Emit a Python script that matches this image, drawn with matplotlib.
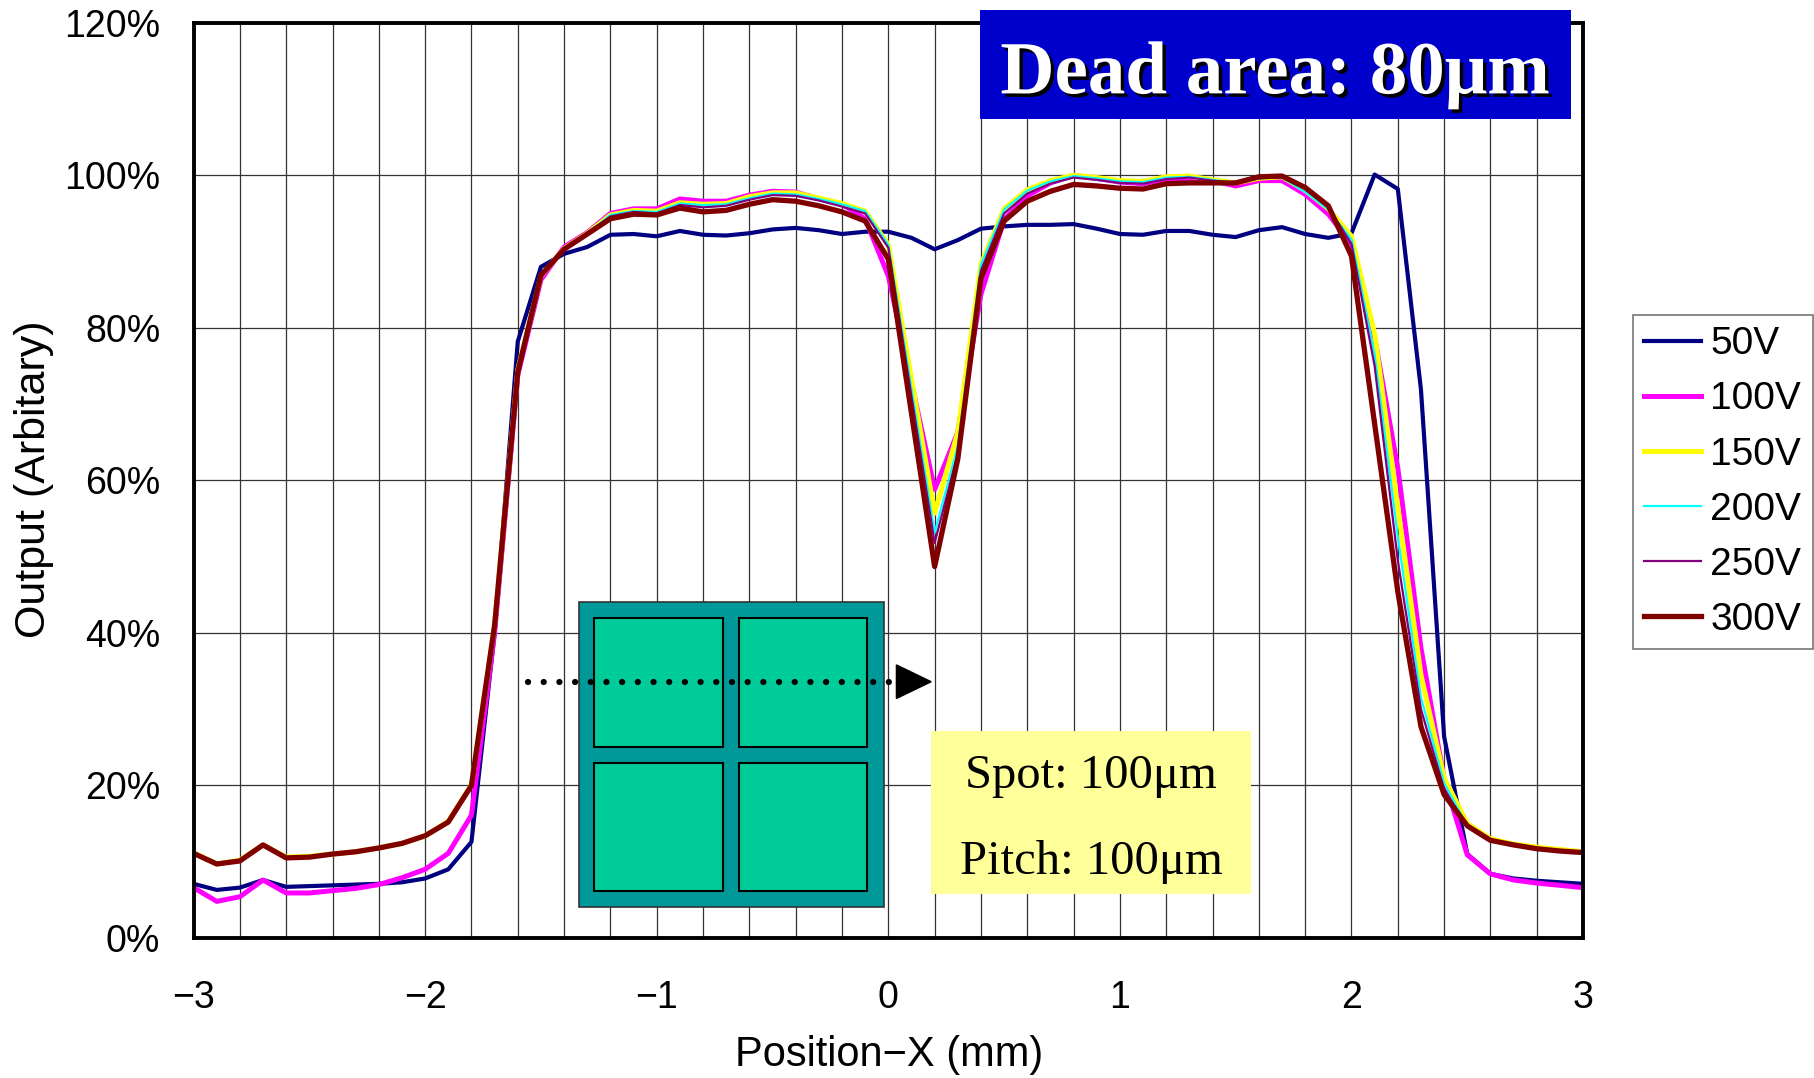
import numpy as np
import matplotlib
matplotlib.use('Agg')
import matplotlib.pyplot as plt
import matplotlib.patheffects as pe
from matplotlib.patches import Rectangle, Polygon

plt.rcParams['font.family'] = ['Liberation Sans', 'DejaVu Sans']

# scan positions (mm), one reading every 0.1 mm
position = np.linspace(-3, 3, 61)

v50 = [7.1, 6.3, 6.6, 7.6, 6.7, 6.8, 6.9, 7.0, 7.1, 7.3,
       7.8, 9.0, 12.6, 40.0, 78.2, 88.0, 89.7, 90.6, 92.2, 92.3,
       92.0, 92.7, 92.2, 92.1, 92.4, 92.9, 93.1, 92.8, 92.3, 92.6,
       92.6, 91.8, 90.3, 91.5, 93.0, 93.3, 93.5, 93.5, 93.6, 93.0,
       92.3, 92.2, 92.7, 92.7, 92.2, 91.9, 92.8, 93.2, 92.3, 91.8,
       92.4, 100.1, 98.2, 71.9, 26.4, 11.0, 8.4, 7.8, 7.5, 7.3, 7.1]
v100 = [6.6, 4.8, 5.4, 7.6, 5.9, 5.9, 6.2, 6.5, 7.0, 7.9,
        9.0, 11.1, 16.1, 40.0, 73.8, 86.3, 90.6, 92.5, 95.0, 95.6,
        95.6, 96.9, 96.6, 96.6, 97.4, 97.9, 97.8, 96.9, 96.2, 94.3,
        86.8, 72.8, 58.8, 66.3, 84.4, 94.2, 97.3, 99.0, 100.0, 99.6,
        99.1, 98.9, 99.5, 99.6, 99.3, 98.6, 99.3, 99.3, 97.5, 94.9,
        91.0, 78.7, 61.6, 38.0, 20.8, 10.9, 8.4, 7.6, 7.2, 6.9, 6.6]
v150 = [11.2, 9.7, 10.2, 12.2, 10.6, 10.7, 11.0, 11.3, 11.8, 12.4,
        13.4, 15.3, 20.1, 41.0, 74.5, 86.8, 90.4, 92.4, 94.8, 95.4,
        95.3, 96.4, 96.2, 96.3, 97.2, 97.7, 97.7, 97.0, 96.3, 95.3,
        90.9, 73.3, 55.7, 66.3, 88.3, 95.6, 98.1, 99.3, 100.0, 99.7,
        99.3, 99.2, 99.8, 99.9, 99.4, 99.0, 99.6, 99.8, 98.0, 95.6,
        92.0, 79.2, 56.5, 34.5, 21.0, 15.0, 13.0, 12.3, 11.9, 11.6, 11.3]
v200 = [11.1, 9.6, 10.1, 12.0, 10.5, 10.6, 10.9, 11.2, 11.7, 12.3,
        13.3, 15.2, 20.0, 41.0, 74.5, 86.8, 90.4, 92.4, 94.8, 95.3,
        95.2, 96.3, 96.1, 96.2, 97.0, 97.6, 97.5, 96.9, 96.2, 95.3,
        90.9, 72.0, 53.1, 64.5, 88.3, 95.5, 98.0, 99.2, 99.9, 99.6,
        99.2, 99.1, 99.7, 99.8, 99.4, 99.0, 99.6, 99.7, 97.8, 95.5,
        91.6, 76.5, 52.6, 31.5, 20.3, 14.7, 12.9, 12.2, 11.8, 11.4, 11.0]
v250 = [11.1, 9.7, 10.1, 12.1, 10.5, 10.6, 10.9, 11.2, 11.7, 12.3,
        13.3, 15.2, 20.0, 41.0, 74.3, 86.7, 90.3, 92.3, 94.6, 95.2,
        95.0, 96.1, 95.8, 96.0, 96.8, 97.4, 97.3, 96.7, 95.9, 95.0,
        90.5, 71.0, 51.8, 63.5, 87.5, 95.0, 97.6, 98.9, 99.7, 99.4,
        99.0, 98.9, 99.5, 99.7, 99.3, 99.0, 99.6, 99.8, 98.2, 95.8,
        91.0, 75.0, 49.5, 30.0, 19.5, 14.6, 12.8, 12.2, 11.8, 11.4, 11.1]
v300 = [11.1, 9.7, 10.1, 12.2, 10.5, 10.6, 11.0, 11.3, 11.8, 12.4,
        13.4, 15.2, 20.0, 41.0, 74.2, 86.9, 90.3, 92.3, 94.3, 94.9,
        94.8, 95.7, 95.2, 95.4, 96.2, 96.8, 96.6, 96.0, 95.2, 94.0,
        89.0, 68.8, 48.7, 62.8, 86.5, 94.0, 96.6, 97.9, 98.8, 98.6,
        98.3, 98.2, 98.9, 99.0, 99.0, 99.0, 99.8, 99.9, 98.4, 96.0,
        89.4, 67.4, 45.4, 27.7, 18.8, 14.7, 12.8, 12.2, 11.7, 11.4, 11.2]

labels = ['50V', '100V', '150V', '200V', '250V', '300V']
colors = ['#000080', '#FF00FF', '#FFFF00', '#00FFFF', '#800080', '#800000']
widths = [3.0, 3.6, 3.6, 1.6, 1.6, 3.8]

fig = plt.figure(figsize=(18.14, 10.78), dpi=100)
ax = fig.add_axes([0.1067, 0.1299, 0.7660, 0.8490])

for vals, lab, col, lw in zip([v50, v100, v150, v200, v250, v300], labels, colors, widths):
    ax.plot(position, vals, color=col, lw=lw, label=lab, zorder=3)

ax.set_xlim(-3, 3)
ax.set_ylim(0, 120)
ax.set_xticks(np.arange(-3, 3.01, 1))
ax.set_xticks(np.arange(-3, 3.01, 0.2), minor=True)
ax.set_yticks(np.arange(0, 121, 20))
ax.set_yticklabels([f'{v}%' for v in range(0, 121, 20)])
ax.grid(True, which='both', axis='x', color='#333333', lw=0.9, zorder=0)
ax.grid(True, which='major', axis='y', color='#333333', lw=0.9, zorder=0)
ax.tick_params(which='both', length=0)
ax.tick_params(axis='x', labelsize=27, pad=30)
ax.tick_params(axis='y', labelsize=27, pad=24)
for s in ax.spines.values():
    s.set_linewidth(2.8)
    s.set_zorder(4)

fig.text(0.490, 0.021, 'Position\u2212X (mm)', fontsize=30, ha='center', va='center')
fig.text(0.0185, 0.555, 'Output (Arbitary)', fontsize=31, ha='center', va='center', rotation=90)

leg = ax.legend(loc='upper left', bbox_to_anchor=(0.9, 0.708), bbox_transform=fig.transFigure,
                fontsize=28, frameon=True, fancybox=False, edgecolor='#555555',
                handlelength=1.45, handletextpad=0.25, labelspacing=0.49, borderpad=0.3,
                borderaxespad=0)
leg.get_frame().set_linewidth(1.2)

# pixel-array sketch with scan direction
ax.add_patch(Rectangle((-1.335, 4.1), 1.315, 40.0, facecolor='#009999', edgecolor='#333333', lw=1.2, zorder=5))
for x0 in (-1.27, -0.645):
    for y0 in (25.1, 6.2):
        ax.add_patch(Rectangle((x0, y0), 0.555, 16.8, facecolor='#00CC99', edgecolor='black', lw=1.5, zorder=6))
ax.plot([-1.555, 0.03], [33.6, 33.6], color='black', lw=4.5, ls=(0, (0.01, 2.5)),
        dash_capstyle='round', zorder=7)
ax.add_patch(Polygon([[0.035, 35.8], [0.035, 31.4], [0.185, 33.6]], closed=True,
                     facecolor='black', edgecolor='black', zorder=7))

# spot / pitch box
ax.add_patch(Rectangle((0.185, 5.8), 1.38, 21.4, facecolor='#FFFF99', edgecolor='none', zorder=5))
ax.text(0.875, 21.3, 'Spot: 100\u03bcm', fontsize=35, family='Liberation Serif',
        ha='center', va='center', zorder=6)
ax.text(0.875, 9.9, 'Pitch: 100\u03bcm', fontsize=35, family='Liberation Serif',
        ha='center', va='center', zorder=6)

# title box
ax.add_patch(Rectangle((0.395, 107.4), 2.555, 14.3, facecolor='#0000CC', edgecolor='none',
                       zorder=8, clip_on=False))
ax.text(1.67, 113.1, 'Dead area: 80\u03bcm', fontsize=54, family='Liberation Serif',
        fontweight='bold', color='white', ha='center', va='center', zorder=9, clip_on=False,
        path_effects=[pe.SimplePatchShadow(offset=(2.5, -2.5), shadow_rgbFace='black', alpha=1.0),
                      pe.Normal()])

fig.savefig('out.png', dpi=100)
